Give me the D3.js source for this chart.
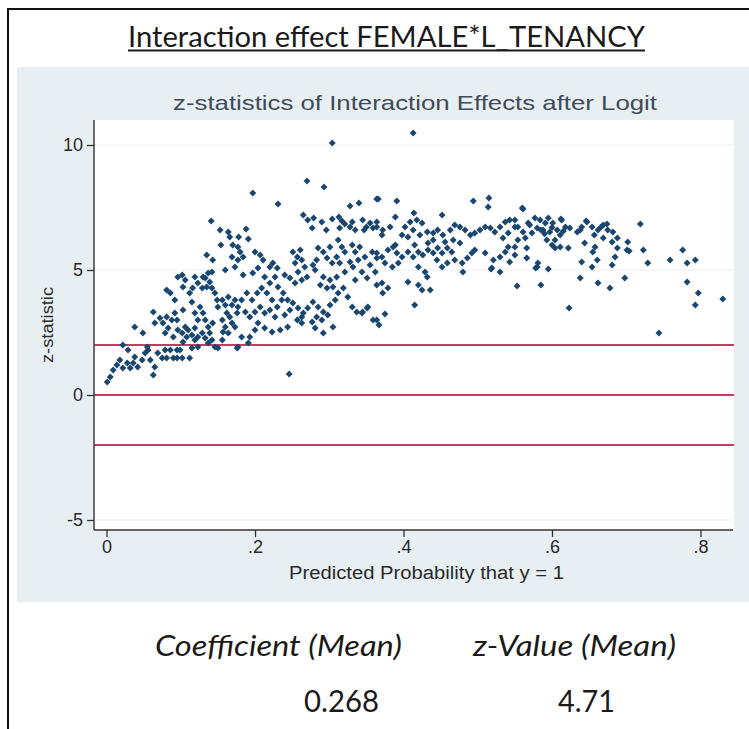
<!DOCTYPE html>
<html><head><meta charset="utf-8">
<script src="https://cdn.jsdelivr.net/npm/d3@7"></script>
<style>html,body{margin:0;padding:0;background:#fff;}svg{display:block;}</style>
</head><body>
<script>
const pageTitle = "Interaction effect FEMALE*L_TENANCY";
const chartTitle = "z-statistics of Interaction Effects after Logit";
const xAxisTitle = "Predicted Probability that y = 1";
const yAxisTitle = "z-statistic";
const xTicks = [0, 0.2, 0.4, 0.6, 0.8];
const xTickLabels = ["0", ".2", ".4", ".6", ".8"];
const yTicks = [-5, 0, 5, 10];
const yTickLabels = ["-5", "0", "5", "10"];
const refLines = [-2, 0, 2];
const summaryHeaders = ["Coefficient (Mean)", "z-Value (Mean)"];
const summaryValues = ["0.268", "4.71"];

// [predicted probability, z-statistic]
const points = [
[0.001,0.52],[0.005,0.72],[0.009,1.0],[0.014,1.2],[0.018,1.4],[0.022,1.08],[0.028,1.28],[0.032,1.08],[0.036,1.28],[0.038,1.52],
[0.042,1.12],[0.048,1.4],[0.052,1.68],[0.056,1.8],[0.059,1.4],[0.063,0.8],[0.065,1.12],[0.069,1.68],[0.075,1.48],[0.079,1.8],
[0.081,1.48],[0.086,1.8],[0.090,1.48],[0.095,1.48],[0.099,1.8],[0.102,1.48],[0.095,1.8],[0.112,1.48],[0.115,1.88],[0.119,2.2],
[0.123,1.92],[0.022,2.0],[0.029,1.8],[0.038,2.72],[0.049,2.48],[0.055,1.92],[0.063,3.32],[0.065,2.88],[0.072,3.08],[0.076,2.88],
[0.079,2.48],[0.081,3.12],[0.083,2.68],[0.090,2.32],[0.088,3.0],[0.095,3.0],[0.096,2.6],[0.092,3.28],[0.102,2.48],[0.103,2.12],
[0.106,2.72],[0.108,2.32],[0.110,2.6],[0.115,2.4],[0.119,2.68],[0.123,2.32],[0.129,2.48],[0.133,2.28],[0.137,2.08],[0.142,2.2],
[0.146,1.92],[0.150,1.88],[0.156,2.2],[0.157,2.52],[0.081,4.2],[0.086,4.08],[0.092,3.8],[0.096,4.72],[0.102,4.8],[0.103,4.32],
[0.106,4.6],[0.112,4.08],[0.115,3.72],[0.119,4.72],[0.123,4.48],[0.116,4.28],[0.129,4.28],[0.133,4.68],[0.135,4.32],[0.137,4.88],
[0.139,4.52],[0.142,4.28],[0.146,4.08],[0.149,3.8],[0.150,3.52],[0.156,3.8],[0.160,3.6],[0.164,3.92],[0.169,3.6],[0.173,3.8],
[0.126,3.52],[0.130,3.28],[0.133,3.0],[0.137,2.72],[0.123,3.0],[0.119,3.28],[0.103,3.4],[0.139,2.48],[0.143,2.88],[0.156,3.0],
[0.160,2.72],[0.164,2.48],[0.169,2.88],[0.173,2.72],[0.176,3.28],[0.177,1.92],[0.162,3.28],[0.166,3.12],[0.141,6.96],[0.153,6.6],
[0.164,6.52],[0.154,6.0],[0.166,6.32],[0.170,6.0],[0.135,5.6],[0.143,5.4],[0.169,5.52],[0.173,5.12],[0.160,5.0],[0.142,4.92],
[0.130,4.72],
[0.304,10.08],[0.270,8.56],[0.293,8.32],[0.197,8.08],[0.231,7.64],[0.328,7.56],[0.340,7.68],[0.364,7.84],[0.265,7.2],[0.271,7.0],
[0.279,7.08],[0.277,6.68],[0.290,6.92],[0.296,6.6],[0.304,7.04],[0.313,7.12],[0.317,6.96],[0.314,6.68],[0.321,6.84],[0.328,6.72],
[0.331,6.92],[0.335,6.6],[0.345,7.0],[0.350,6.72],[0.355,6.88],[0.359,6.68],[0.364,6.92],[0.347,6.6],[0.188,6.64],[0.191,6.24],
[0.178,6.32],[0.177,5.92],[0.180,5.72],[0.184,5.52],[0.177,5.4],[0.200,5.72],[0.207,5.6],[0.211,5.4],[0.220,5.12],[0.224,5.28],
[0.230,5.08],[0.204,5.08],[0.197,4.88],[0.184,4.8],[0.213,4.72],[0.220,4.48],[0.227,4.72],[0.240,4.8],[0.251,5.72],[0.257,5.52],
[0.261,5.8],[0.254,5.28],[0.263,5.4],[0.267,5.12],[0.258,4.92],[0.247,4.68],[0.254,4.48],[0.263,4.6],[0.270,4.72],[0.281,5.0],
[0.285,5.88],[0.292,5.72],[0.283,5.4],[0.278,5.2],[0.297,5.48],[0.301,5.92],[0.304,5.28],[0.312,6.2],[0.317,5.92],[0.321,5.72],
[0.310,5.52],[0.314,5.28],[0.331,6.0],[0.335,5.72],[0.341,5.92],[0.339,5.4],[0.328,5.32],[0.332,5.12],[0.348,5.52],[0.358,5.72],
[0.364,5.48],[0.355,5.2],[0.362,4.92],[0.344,4.92],[0.351,4.68],[0.335,4.6],[0.321,4.92],[0.310,4.72],[0.301,4.6],[0.292,4.72],
[0.288,4.4],[0.297,4.28],[0.305,4.32],[0.312,4.08],[0.319,4.28],[0.325,3.92],[0.331,3.52],[0.337,3.32],[0.344,3.28],[0.351,3.48],
[0.308,3.8],[0.301,3.6],[0.292,3.32],[0.285,3.52],[0.278,3.72],[0.271,3.48],[0.265,3.28],[0.258,3.48],[0.251,3.68],[0.244,3.8],
[0.238,4.08],[0.231,4.32],[0.236,3.8],[0.230,3.52],[0.223,3.8],[0.216,4.08],[0.209,4.28],[0.203,4.08],[0.196,3.8],[0.189,4.08],
[0.182,3.8],[0.177,3.52],[0.187,3.32],[0.193,3.12],[0.200,3.32],[0.207,3.52],[0.213,3.28],[0.220,3.4],[0.227,3.12],[0.240,3.2],
[0.247,3.4],[0.257,3.0],[0.263,3.12],[0.277,2.92],[0.283,3.12],[0.290,3.0],[0.298,3.2],[0.305,2.72],[0.292,2.48],[0.281,2.68],
[0.263,2.88],[0.244,2.72],[0.234,2.6],[0.223,2.52],[0.213,2.68],[0.204,2.88],[0.200,2.6],[0.193,2.32],[0.191,2.08],[0.182,2.32],
[0.176,1.88],[0.246,0.84],[0.345,3.32],[0.359,3.0],[0.352,3.52],
[0.413,10.48],[0.366,7.84],[0.391,7.76],[0.494,7.76],[0.515,7.88],[0.514,7.52],[0.389,7.12],[0.414,7.28],[0.452,7.2],[0.364,6.72],
[0.372,6.6],[0.382,6.72],[0.371,6.4],[0.402,6.72],[0.409,6.92],[0.418,7.0],[0.425,6.88],[0.413,6.6],[0.422,6.4],[0.406,6.32],
[0.398,6.4],[0.432,6.52],[0.440,6.48],[0.446,6.6],[0.453,6.4],[0.463,6.6],[0.469,6.8],[0.476,6.72],[0.483,6.6],[0.490,6.4],
[0.496,6.48],[0.503,6.6],[0.510,6.72],[0.517,6.68],[0.523,6.52],[0.530,6.72],[0.537,6.92],[0.543,7.0],[0.550,6.72],[0.541,6.48],
[0.534,6.28],[0.456,6.12],[0.467,6.2],[0.476,6.08],[0.440,6.2],[0.433,6.08],[0.415,6.0],[0.389,6.0],[0.364,5.68],[0.371,5.52],
[0.379,5.8],[0.386,5.92],[0.391,5.68],[0.398,5.52],[0.375,5.28],[0.385,5.12],[0.393,5.28],[0.406,5.72],[0.413,5.52],[0.420,5.72],
[0.426,5.6],[0.433,5.8],[0.440,5.68],[0.446,5.88],[0.452,5.68],[0.459,5.88],[0.465,5.72],[0.445,5.4],[0.452,5.12],[0.459,5.28],
[0.469,5.4],[0.479,5.28],[0.486,5.48],[0.492,5.68],[0.496,5.8],[0.480,4.92],[0.510,5.68],[0.521,5.4],[0.530,5.52],[0.537,5.72],
[0.541,5.92],[0.519,5.08],[0.530,4.92],[0.420,5.12],[0.429,4.92],[0.432,4.72],[0.406,4.52],[0.420,4.4],[0.425,4.2],[0.436,4.2],
[0.371,4.48],[0.379,4.28],[0.372,4.08],[0.364,4.4],[0.415,3.6],[0.375,3.24],[0.364,3.0],[0.367,2.8],[0.553,4.36],[0.550,5.92],
[0.560,7.48],[0.550,7.0],[0.554,6.72],[0.561,6.52],[0.568,6.88],[0.577,7.08],[0.584,7.0],[0.591,6.88],[0.595,7.08],[0.601,6.88],
[0.607,6.6],[0.597,6.52],[0.588,6.6],[0.580,6.68],[0.573,6.48],[0.564,6.28],[0.554,6.2],[0.593,6.2],[0.600,6.0],[0.604,6.2],
[0.611,6.4],[0.618,6.72],[0.624,6.68],[0.613,7.0],[0.634,6.52],[0.640,6.72],[0.647,6.92],[0.654,6.72],[0.662,6.6],[0.669,6.8],
[0.675,6.6],[0.669,6.28],[0.681,6.12],[0.688,6.28],[0.622,5.88],[0.611,5.92],[0.550,5.6],[0.566,5.88],[0.566,5.48],[0.580,5.12],
[0.595,5.04],[0.581,5.28],[0.644,6.08],[0.658,5.92],[0.655,5.72],[0.661,5.4],[0.654,5.12],[0.681,5.2],[0.685,5.52],[0.688,5.88],
[0.640,5.32],[0.638,4.68],[0.662,4.48],[0.678,4.28],[0.698,4.68],[0.702,6.12],[0.701,5.8],[0.719,6.84],[0.723,5.8],[0.585,4.4],
[0.623,3.48],[0.682,6.52],[0.666,6.72],[0.674,6.84],[0.657,6.4],[0.638,6.6],[0.646,6.96],[0.612,7.04],[0.604,5.88],[0.578,5.08],
[0.561,7.44],[0.543,5.32],[0.518,5.04],[0.570,6.8],[0.585,6.6],[0.600,6.7],[0.590,6.45],[0.615,6.55],[0.704,5.76],
[0.729,5.28],[0.744,2.48],[0.759,5.4],[0.776,5.8],[0.782,5.28],[0.793,5.4],[0.782,4.52],[0.797,4.08],[0.793,3.6],[0.830,3.84]
];

const W = 749, H = 729;
const svg = d3.select("body").append("svg").attr("width", W).attr("height", H);

// outer frame
svg.append("rect").attr("x",0).attr("y",0).attr("width",W).attr("height",H).attr("fill","#fff");
svg.append("line").attr("x1",8).attr("x2",W).attr("y1",9).attr("y2",9).attr("stroke","#111").attr("stroke-width",2);
svg.append("line").attr("x1",8).attr("x2",8).attr("y1",8).attr("y2",H).attr("stroke","#111").attr("stroke-width",2);

// slide title with underline
svg.append("text").attr("x",386.5).attr("y",47).attr("text-anchor","middle")
  .attr("font-family","Lato, 'Open Sans', sans-serif").attr("font-size",28).attr("fill","#1a1a1a")
  .attr("textLength",517).attr("lengthAdjust","spacingAndGlyphs").text(pageTitle);
svg.append("line").attr("x1",128).attr("x2",645).attr("y1",50.5).attr("y2",50.5).attr("stroke","#1a1a1a").attr("stroke-width",1.8);

// graph region
svg.append("rect").attr("x",17).attr("y",67).attr("width",W-17).attr("height",535).attr("fill","#e8eff2");

// chart title
svg.append("text").attr("x",415).attr("y",110).attr("text-anchor","middle")
  .attr("font-family","'Liberation Sans', Arial, sans-serif").attr("font-size",21).attr("fill","#3f4b5a")
  .attr("textLength",484).attr("lengthAdjust","spacingAndGlyphs").text(chartTitle);

// plot region
const plotL = 94, plotR = 734, plotT = 120, plotB = 530;
svg.append("rect").attr("x",plotL).attr("y",plotT).attr("width",plotR-plotL).attr("height",plotB-plotT).attr("fill","#fff");

const x = d3.scaleLinear().domain([0, 0.8]).range([106.5, 700.5]);
const y = d3.scaleLinear().domain([-5, 10]).range([520, 145]);

// grid lines
svg.append("g").selectAll("line").data(yTicks).join("line")
  .attr("x1",plotL).attr("x2",plotR).attr("y1",d=>y(d)).attr("y2",d=>y(d))
  .attr("stroke","#e9eef1").attr("stroke-width",1.2);

// reference lines
svg.append("g").selectAll("line").data(refLines).join("line")
  .attr("x1",plotL).attr("x2",plotR).attr("y1",d=>y(d)).attr("y2",d=>y(d))
  .attr("stroke","#c93a5e").attr("stroke-width",1.8);

// points
const sym = d3.symbol().type(d3.symbolSquare).size(24);
svg.append("g").selectAll("path").data(points).join("path")
  .attr("d", sym)
  .attr("transform", d => `translate(${x(d[0])},${y(d[1])}) rotate(45)`)
  .attr("fill","#1a476f");

// axes
const axisColor = "#333";
const tickFont = "'Liberation Sans', Arial, sans-serif";
const yAxis = d3.axisLeft(y).tickValues(yTicks).tickFormat((d,i)=>yTickLabels[i]).tickSize(7).tickPadding(4);
const gy = svg.append("g").attr("transform",`translate(${plotL},0)`).call(yAxis);
gy.select(".domain").remove();
gy.selectAll(".tick line").attr("stroke",axisColor).attr("stroke-width",1.3);
gy.selectAll(".tick text").attr("font-family",tickFont).attr("font-size",18).attr("fill","#2a2a2a");
svg.append("line").attr("x1",plotL).attr("x2",plotL).attr("y1",plotT).attr("y2",plotB).attr("stroke",axisColor).attr("stroke-width",1.4);

const xAxis = d3.axisBottom(x).tickValues(xTicks).tickFormat((d,i)=>xTickLabels[i]).tickSize(7).tickPadding(3);
const gx = svg.append("g").attr("transform",`translate(0,${plotB})`).call(xAxis);
gx.select(".domain").remove();
gx.selectAll(".tick line").attr("stroke",axisColor).attr("stroke-width",1.3);
gx.selectAll(".tick text").attr("font-family",tickFont).attr("font-size",18).attr("fill","#2a2a2a");
svg.append("line").attr("x1",plotL).attr("x2",plotR-1).attr("y1",plotB).attr("y2",plotB).attr("stroke",axisColor).attr("stroke-width",1.4);

// axis titles
svg.append("text").attr("x",426.5).attr("y",579).attr("text-anchor","middle")
  .attr("font-family",tickFont).attr("font-size",18).attr("fill","#2a2a2a")
  .attr("textLength",275).attr("lengthAdjust","spacingAndGlyphs").text(xAxisTitle);
svg.append("text").attr("transform","translate(53,325) rotate(-90)").attr("text-anchor","middle")
  .attr("font-family",tickFont).attr("font-size",16).attr("fill","#2a2a2a")
  .attr("textLength",76).attr("lengthAdjust","spacingAndGlyphs").text(yAxisTitle);

// summary
const headX = [278.5, 574.5], headW = [247, 203];
const valX = [341.5, 586.5], valW = [75, 57];
svg.append("g").selectAll("text").data(summaryHeaders).join("text")
  .attr("x",(d,i)=>headX[i]).attr("y",656).attr("text-anchor","middle")
  .attr("font-family","Lato, 'Open Sans', sans-serif").attr("font-style","italic").attr("font-size",29).attr("fill","#1a1a1a")
  .attr("textLength",(d,i)=>headW[i]).attr("lengthAdjust","spacingAndGlyphs").text(d=>d);
svg.append("g").selectAll("text").data(summaryValues).join("text")
  .attr("x",(d,i)=>valX[i]).attr("y",712).attr("text-anchor","middle")
  .attr("font-family","Lato, 'Open Sans', sans-serif").attr("font-size",30).attr("fill","#1a1a1a")
  .attr("textLength",(d,i)=>valW[i]).attr("lengthAdjust","spacingAndGlyphs").text(d=>d);
</script>
</body></html>
